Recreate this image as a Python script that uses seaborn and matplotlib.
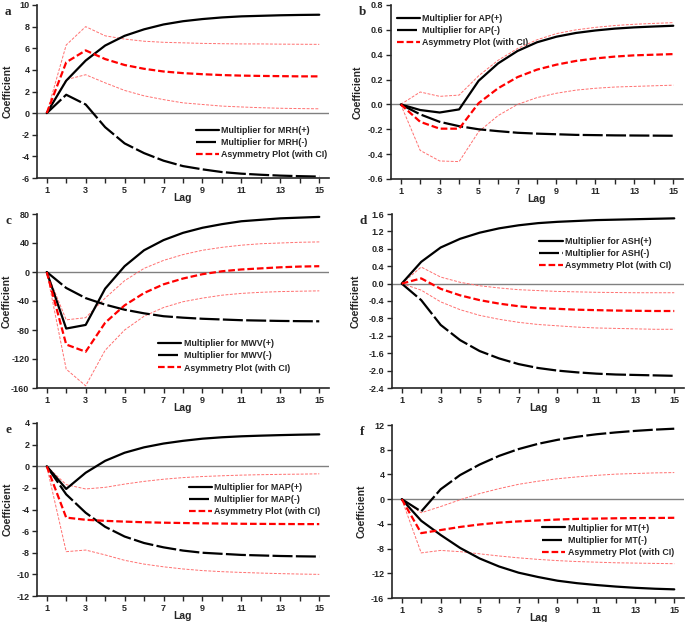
import numpy as np
import pandas as pd
import seaborn as sns
import matplotlib.pyplot as plt
from matplotlib.ticker import MultipleLocator

# --- données (lags 1..15) ---
lags = list(range(1, 16))

mrh_pos = [0, 3.0, 4.86, 6.25, 7.15, 7.75, 8.2, 8.5, 8.7, 8.85, 8.95, 9.0, 9.05, 9.08, 9.1]
mrh_neg = [0, 1.7, 0.8, -1.3, -2.8, -3.7, -4.4, -4.9, -5.2, -5.45, -5.6, -5.7, -5.78, -5.83, -5.87]
mrh_asym = [0, 4.7, 5.8, 5.0, 4.45, 4.1, 3.85, 3.7, 3.6, 3.52, 3.47, 3.44, 3.42, 3.4, 3.4]
mrh_up = [0, 6.3, 8.0, 7.15, 6.85, 6.65, 6.55, 6.5, 6.45, 6.42, 6.4, 6.4, 6.38, 6.37, 6.36]
mrh_lo = [0, 3.1, 3.55, 2.8, 2.1, 1.6, 1.25, 0.95, 0.8, 0.65, 0.57, 0.5, 0.45, 0.42, 0.4]

ap_pos = [0, -0.045, -0.065, -0.04, 0.19, 0.33, 0.43, 0.50, 0.545, 0.575, 0.595, 0.61, 0.62, 0.627, 0.633]
ap_neg = [0, -0.08, -0.14, -0.175, -0.2, -0.215, -0.228, -0.235, -0.24, -0.245, -0.247, -0.249, -0.25, -0.251, -0.252]
ap_asym = [0, -0.14, -0.195, -0.195, 0.01, 0.13, 0.22, 0.28, 0.32, 0.35, 0.37, 0.385, 0.395, 0.4, 0.405]
ap_up = [0, 0.10, 0.065, 0.075, 0.23, 0.355, 0.45, 0.52, 0.57, 0.6, 0.62, 0.635, 0.645, 0.652, 0.658]
ap_lo = [0, -0.37, -0.455, -0.46, -0.22, -0.09, 0.0, 0.055, 0.09, 0.115, 0.13, 0.14, 0.145, 0.15, 0.155]

mwv_pos = [0, -78, -73, -23, 8, 30, 44, 54, 61, 66, 70, 72, 74, 75, 76]
mwv_neg = [0, -22, -36, -45, -52, -57, -61, -63, -64.5, -65.5, -66.5, -67, -67.5, -67.8, -68]
mwv_asym = [0, -100, -110, -70, -46, -29, -17, -9, -3, 1, 3.5, 5, 6.5, 7.5, 8]
mwv_up = [0, -66, -63, -36, -12, 5, 16, 24, 30, 34, 37, 39, 40, 41, 41.5]
mwv_lo = [0, -134, -157, -108, -80, -61, -49, -41, -36, -32, -29.5, -28, -27, -26.5, -26]

ash_pos = [0, 0.5, 0.83, 1.03, 1.17, 1.27, 1.34, 1.39, 1.42, 1.44, 1.46, 1.47, 1.48, 1.49, 1.5]
ash_neg = [0, -0.38, -0.95, -1.3, -1.55, -1.72, -1.85, -1.94, -2.0, -2.04, -2.07, -2.09, -2.1, -2.11, -2.12]
ash_asym = [0, 0.12, -0.12, -0.27, -0.38, -0.46, -0.52, -0.56, -0.58, -0.6, -0.61, -0.62, -0.625, -0.63, -0.63]
ash_up = [0, 0.38, 0.15, 0.03, -0.05, -0.1, -0.14, -0.16, -0.18, -0.19, -0.2, -0.205, -0.21, -0.21, -0.21]
ash_lo = [0, -0.15, -0.42, -0.6, -0.73, -0.82, -0.89, -0.94, -0.97, -1.0, -1.02, -1.03, -1.04, -1.05, -1.05]

map_pos = [0, -2.1, -0.6, 0.5, 1.25, 1.75, 2.1, 2.35, 2.55, 2.68, 2.77, 2.83, 2.88, 2.92, 2.95]
map_neg = [0, -2.6, -4.3, -5.6, -6.5, -7.1, -7.5, -7.8, -8.0, -8.1, -8.2, -8.25, -8.3, -8.33, -8.35]
map_asym = [0, -4.75, -4.95, -5.05, -5.12, -5.18, -5.22, -5.25, -5.28, -5.3, -5.32, -5.33, -5.34, -5.35, -5.35]
map_up = [0, -1.7, -2.1, -1.95, -1.65, -1.4, -1.2, -1.05, -0.95, -0.88, -0.82, -0.78, -0.75, -0.73, -0.7]
map_lo = [0, -7.9, -7.75, -8.2, -8.7, -9.05, -9.3, -9.5, -9.65, -9.75, -9.82, -9.88, -9.93, -9.97, -10.0]

mt_pos = [0, -3.5, -5.8, -7.9, -9.6, -10.9, -11.9, -12.6, -13.2, -13.6, -13.9, -14.15, -14.35, -14.5, -14.6]
mt_neg = [0, -2.0, 1.6, 3.9, 5.6, 7.0, 8.1, 8.95, 9.6, 10.1, 10.5, 10.8, 11.05, 11.25, 11.4]
mt_asym = [0, -5.5, -5.0, -4.5, -4.1, -3.8, -3.6, -3.45, -3.3, -3.2, -3.15, -3.1, -3.07, -3.05, -3.02]
mt_up = [0, -2.2, -1.2, -0.1, 0.9, 1.7, 2.4, 2.9, 3.3, 3.6, 3.85, 4.05, 4.15, 4.25, 4.3]
mt_lo = [0, -8.7, -8.3, -8.5, -8.85, -9.2, -9.5, -9.75, -9.95, -10.1, -10.2, -10.3, -10.35, -10.4, -10.45]

sns.set_style('ticks')
plt.rcParams['font.family'] = ['Liberation Sans', 'DejaVu Sans']
plt.rcParams['font.weight'] = 'bold'

fig = plt.figure(figsize=(6.85, 6.22), dpi=100)

# panneaux : lettre, nom, séries, limites y, pas y, position axes (px), position légende, bord droit du label y (px)
panneaux = [
    ('a', 'MRH', mrh_pos, mrh_neg, mrh_asym, mrh_up, mrh_lo, (-6, 10), 2, (37, 5, 329, 178), (0.545, 0.30), 13),
    ('b', 'AP', ap_pos, ap_neg, ap_asym, ap_up, ap_lo, (-0.6, 0.8), 0.2, (391, 5, 683, 179), (0.02, 0.95), 363),
    ('c', 'MWV', mwv_pos, mwv_neg, mwv_asym, mwv_up, mwv_lo, (-160, 80), 40, (37, 214, 329, 388), (0.415, 0.28), 12),
    ('d', 'ASH', ash_pos, ash_neg, ash_asym, ash_up, ash_lo, (-2.4, 1.6), 0.4, (392, 214, 684, 388), (0.505, 0.867), 361),
    ('e', 'MAP', map_pos, map_neg, map_asym, map_up, map_lo, (-12, 4), 2, (37, 423, 329, 596), (0.52, 0.655), 13),
    ('f', 'MT', mt_pos, mt_neg, mt_asym, mt_up, mt_lo, (-16, 12), 4, (392, 425, 684, 598), (0.515, 0.43), 367),
]

W, H = 685, 622
for lettre, nom, pos, neg, asym, up, lo, ylim, pas, (x0, y0, x1, y1), leg, xlab in panneaux:
    ax = fig.add_axes([x0 / W, 1 - y1 / H, (x1 - x0) / W, (y1 - y0) / H])
    ax.axhline(0, color='#808080', lw=1, zorder=1)
    sns.lineplot(x=lags, y=up, ax=ax, color='#ff7070', lw=0.7, linestyle=(0, (3, 1.5)))
    sns.lineplot(x=lags, y=lo, ax=ax, color='#ff7070', lw=0.7, linestyle=(0, (3, 1.5)))
    sns.lineplot(x=lags, y=pos, ax=ax, color='black', lw=1.6, label=f'Multiplier for {nom}(+)')
    sns.lineplot(x=lags, y=neg, ax=ax, color='black', lw=1.6, linestyle=(0, (9, 1.5)),
                 label=f'Multiplier for {nom}(-)')
    sns.lineplot(x=lags, y=asym, ax=ax, color='#ff0000', lw=1.6, linestyle=(0, (3, 1.3)),
                 label='Asymmetry Plot (with CI)')
    ax.set_xlim(0.5, 15.5)
    ax.set_ylim(*ylim)
    ax.yaxis.set_major_locator(MultipleLocator(pas))
    ax.set_xticks(range(1, 16, 2))
    ax.xaxis.set_minor_locator(MultipleLocator(1))
    ax.tick_params(axis='both', which='both', direction='out', labelsize=6.5, length=3.5, width=1)
    ax.tick_params(axis='both', pad=2)
    ax.yaxis.set_major_formatter(plt.FuncFormatter(
        lambda v, p, pas=pas: f'{v:.1f}' if pas < 1 else f'{v:.0f}'))
    ax.set_xlabel('Lag', fontsize=7.5, fontweight='bold', labelpad=-1.5)
    ax.set_ylabel('Coefficient', fontsize=7.5, fontweight='bold')
    ax.yaxis.set_label_coords((xlab - x0) / (x1 - x0), 0.5)
    sns.despine(ax=ax)
    for s in ['left', 'bottom']:
        ax.spines[s].set_linewidth(1.2)
    ax.legend(loc='upper left', bbox_to_anchor=leg, frameon=False, fontsize=6.4,
              handlelength=2.6, handletextpad=0.25, labelspacing=0.35, borderpad=0,
              borderaxespad=0)
    fig.text((x0 - 32) / W, 1 - (y0 + 1) / H, lettre, fontsize=9.5, fontweight='bold',
             family='Liberation Serif', va='top')

plt.savefig('out.png', dpi=100)
